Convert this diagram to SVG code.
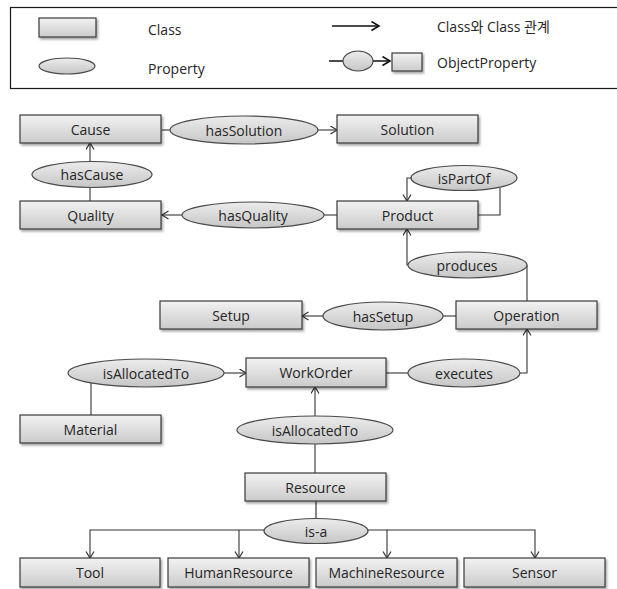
<svg xmlns="http://www.w3.org/2000/svg" width="617" height="589" viewBox="0 0 617 589">
  <defs>
    <linearGradient id="boxFill" x1="0" y1="0" x2="0" y2="1">
      <stop offset="0" stop-color="#f2f2f2"/>
      <stop offset="1" stop-color="#cbcbcb"/>
    </linearGradient>
    <linearGradient id="ellFill" x1="0" y1="0" x2="0" y2="1">
      <stop offset="0" stop-color="#ececec"/>
      <stop offset="1" stop-color="#c6c6c6"/>
    </linearGradient>
    <filter id="shadow" x="-10%" y="-20%" width="120%" height="160%">
      <feDropShadow dx="1.5" dy="2" stdDeviation="1" flood-color="#000" flood-opacity="0.35"/>
    </filter>
    <marker id="arrow" markerUnits="userSpaceOnUse" markerWidth="10" markerHeight="10" refX="7" refY="4.5" orient="auto">
      <path d="M0.5,0.5 L7,4.5 L0.5,8.5" fill="none" stroke="#333" stroke-width="1.2"/>
    </marker>
    <marker id="arrowBold" markerUnits="userSpaceOnUse" markerWidth="12" markerHeight="12" refX="8" refY="5" orient="auto">
      <path d="M0.5,0.5 L8,5 L0.5,9.5" fill="none" stroke="#111" stroke-width="1.6"/>
    </marker>
  </defs>
  <style>
    .box { fill: url(#boxFill); stroke: #3a3a3a; stroke-width: 1.2; filter: url(#shadow); }
    .prop { fill: url(#ellFill); stroke: #4a4a4a; stroke-width: 1.2; }
    .lbl { font-family: "Open Sans", "Noto Sans CJK KR", sans-serif; font-size: 14px; fill: #262626; text-anchor: middle; dominant-baseline: central; }
    .leg { font-family: "Open Sans", "Noto Sans CJK KR", sans-serif; font-size: 14px; fill: #262626; dominant-baseline: central; }
    .conn { fill: none; stroke: #333; stroke-width: 1.1; }
    .arr { marker-end: url(#arrow); }
  </style>

  <!-- legend -->
  <g id="legend">
    <rect x="10.5" y="7.5" width="612" height="81" fill="#fff" stroke="#1a1a1a" stroke-width="1.2"/>
    <rect class="box" x="39" y="18" width="57" height="19"/>
    <text class="leg" x="148" y="29">Class</text>
    <ellipse class="prop" cx="67" cy="66" rx="28" ry="8"/>
    <text class="leg" x="148" y="68">Property</text>
    <path d="M332,26 H379" fill="none" stroke="#111" stroke-width="1.5" marker-end="url(#arrowBold)"/>
    <text class="leg" x="437" y="26">Class와 Class 관계</text>
    <path d="M329,61 H343" fill="none" stroke="#111" stroke-width="1.5"/>
    <ellipse class="prop" cx="358" cy="61" rx="15" ry="10"/>
    <path d="M373,61 H390" fill="none" stroke="#111" stroke-width="1.5" marker-end="url(#arrowBold)"/>
    <rect class="box" x="392" y="53" width="30" height="18"/>
    <text class="leg" x="437" y="62">ObjectProperty</text>
  </g>

  <!-- connectors -->
  <g id="connectors">
    <path class="conn" d="M162,130 H170"/>
    <path class="conn arr" d="M318,130 H337"/>
    <path class="conn" d="M90,201 V187"/>
    <path class="conn arr" d="M90,162 V143"/>
    <path class="conn" d="M337,215 H324"/>
    <path class="conn arr" d="M182,215 H162"/>
    <path class="conn" d="M478,215 H500 V188"/>
    <path class="conn arr" d="M412,178 H407 V201"/>
    <path class="conn" d="M527,301 V265"/>
    <path class="conn arr" d="M408,265 H407 V229"/>
    <path class="conn" d="M456,316 H443"/>
    <path class="conn arr" d="M323,316 H302"/>
    <path class="conn" d="M386,373 H408"/>
    <path class="conn arr" d="M520,373 H527 V329"/>
    <path class="conn" d="M91,415 V383"/>
    <path class="conn arr" d="M224,373 H246"/>
    <path class="conn" d="M315,473 V444"/>
    <path class="conn arr" d="M315,416 V387"/>
    <path class="conn" d="M316,501 V519" stroke-width="2.2" style="stroke:#222"/>
    <path class="conn arr" d="M264,530 H90 V558"/>
    <path class="conn arr" d="M239,530 V558"/>
    <path class="conn arr" d="M368,530 H387 V558"/>
    <path class="conn arr" d="M387,530 H535 V558"/>
  </g>

  <!-- classes -->
  <g id="cause"><rect class="box" x="20" y="115" width="141" height="28"/><text class="lbl" x="90.5" y="129">Cause</text></g>
  <g id="solution"><rect class="box" x="337" y="115" width="141" height="28"/><text class="lbl" x="407.5" y="129">Solution</text></g>
  <g id="quality"><rect class="box" x="20" y="201" width="141" height="28"/><text class="lbl" x="90.5" y="215">Quality</text></g>
  <g id="product"><rect class="box" x="337" y="201" width="141" height="28"/><text class="lbl" x="407.5" y="215">Product</text></g>
  <g id="setup"><rect class="box" x="160" y="301" width="142" height="28"/><text class="lbl" x="231" y="315">Setup</text></g>
  <g id="operation"><rect class="box" x="456" y="301" width="141" height="28"/><text class="lbl" x="526.5" y="315">Operation</text></g>
  <g id="workorder"><rect class="box" x="246" y="358" width="140" height="29"/><text class="lbl" x="316" y="372">WorkOrder</text></g>
  <g id="material"><rect class="box" x="20" y="415" width="141" height="28"/><text class="lbl" x="90.5" y="429">Material</text></g>
  <g id="resource"><rect class="box" x="245" y="473" width="141" height="28"/><text class="lbl" x="315.5" y="487">Resource</text></g>
  <g id="tool"><rect class="box" x="20" y="558" width="140" height="29"/><text class="lbl" x="90" y="572">Tool</text></g>
  <g id="humanresource"><rect class="box" x="168" y="558" width="141" height="29"/><text class="lbl" x="238.5" y="572">HumanResource</text></g>
  <g id="machineresource"><rect class="box" x="316" y="558" width="141" height="29"/><text class="lbl" x="386.5" y="572">MachineResource</text></g>
  <g id="sensor"><rect class="box" x="464" y="558" width="141" height="29"/><text class="lbl" x="534.5" y="572">Sensor</text></g>

  <!-- properties -->
  <g id="hasSolution"><ellipse class="prop" cx="244" cy="130" rx="74" ry="14"/><text class="lbl" x="244" y="130">hasSolution</text></g>
  <g id="hasCause"><ellipse class="prop" cx="92" cy="174.5" rx="60" ry="13"/><text class="lbl" x="92" y="174.5">hasCause</text></g>
  <g id="hasQuality"><ellipse class="prop" cx="253" cy="215" rx="71" ry="13"/><text class="lbl" x="253" y="215">hasQuality</text></g>
  <g id="isPartOf"><ellipse class="prop" cx="464" cy="178" rx="53" ry="12.5"/><text class="lbl" x="464" y="178">isPartOf</text></g>
  <g id="produces"><ellipse class="prop" cx="467.5" cy="265" rx="59.5" ry="13"/><text class="lbl" x="467" y="265">produces</text></g>
  <g id="hasSetup"><ellipse class="prop" cx="383" cy="316" rx="60" ry="14"/><text class="lbl" x="383" y="316">hasSetup</text></g>
  <g id="executes"><ellipse class="prop" cx="464" cy="373" rx="56" ry="14"/><text class="lbl" x="464" y="373">executes</text></g>
  <g id="isAllocatedTo-material"><ellipse class="prop" cx="146" cy="373" rx="78" ry="14"/><text class="lbl" x="146" y="373">isAllocatedTo</text></g>
  <g id="isAllocatedTo-resource"><ellipse class="prop" cx="315" cy="430" rx="78" ry="14"/><text class="lbl" x="315" y="430">isAllocatedTo</text></g>
  <g id="is-a"><ellipse class="prop" cx="316" cy="531" rx="52" ry="12.5"/><text class="lbl" x="316" y="531">is-a</text></g>
</svg>
